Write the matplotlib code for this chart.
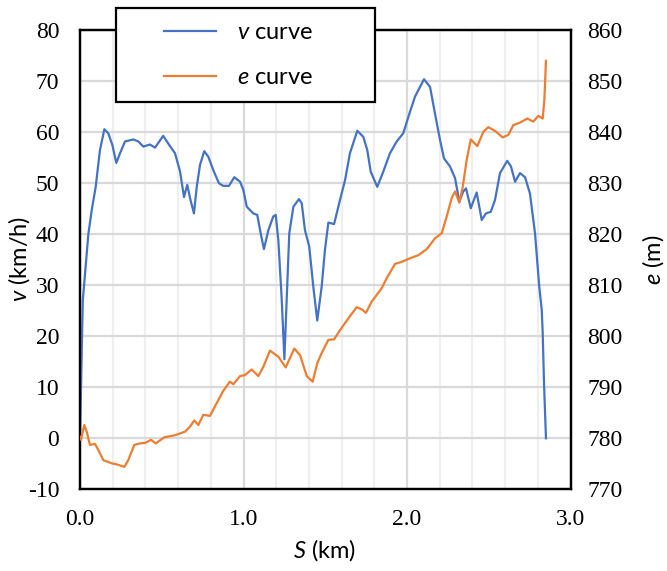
import matplotlib
matplotlib.use('Agg')
import matplotlib.pyplot as plt
from matplotlib.patches import Rectangle
from matplotlib.ticker import MultipleLocator

# Speed curve: distance (km) and speed (km/h).
v_dist = [0.000, 0.017, 0.051, 0.072, 0.096, 0.122, 0.149, 0.173, 0.198, 0.222,
          0.245, 0.275, 0.326, 0.357, 0.387, 0.428, 0.459, 0.509, 0.550, 0.581,
          0.612, 0.636, 0.656, 0.673, 0.697, 0.714, 0.734, 0.760, 0.785, 0.815,
          0.850, 0.876, 0.911, 0.944, 0.979, 0.999, 1.020, 1.060, 1.084, 1.105,
          1.125, 1.152, 1.182, 1.197, 1.213, 1.234, 1.250, 1.264, 1.280, 1.305,
          1.339, 1.356, 1.376, 1.402, 1.427, 1.451, 1.478, 1.498, 1.519, 1.554,
          1.590, 1.621, 1.651, 1.696, 1.733, 1.757, 1.778, 1.818, 1.855, 1.896,
          1.937, 1.977, 2.018, 2.049, 2.104, 2.141, 2.171, 2.202, 2.226, 2.263,
          2.294, 2.320, 2.344, 2.361, 2.390, 2.426, 2.457, 2.483, 2.512, 2.538,
          2.569, 2.613, 2.636, 2.661, 2.691, 2.722, 2.752, 2.783, 2.809, 2.824,
          2.830, 2.838, 2.850]
v_speed = [0.0, 27.0, 40.0, 44.8, 49.3, 56.5, 60.6, 59.8, 57.5, 54.0,
           55.9, 58.2, 58.6, 58.2, 57.2, 57.6, 57.0, 59.3, 57.3, 55.9,
           52.3, 47.3, 49.7, 47.1, 44.1, 49.3, 53.6, 56.3, 55.2, 52.6,
           50.0, 49.5, 49.5, 51.2, 50.3, 48.7, 45.4, 44.1, 43.8, 40.2,
           37.1, 40.8, 43.5, 43.8, 38.9, 27.1, 15.5, 27.1, 40.2, 45.4,
           46.9, 46.1, 40.8, 37.6, 29.7, 23.1, 29.7, 36.9, 42.3, 42.0,
           46.7, 50.6, 55.9, 60.3, 59.1, 56.5, 52.3, 49.3, 52.3, 55.9,
           58.2, 59.8, 64.0, 67.0, 70.4, 68.9, 63.7, 58.5, 54.9, 53.3,
           51.0, 46.4, 48.4, 49.0, 45.1, 48.2, 42.8, 44.1, 44.4, 46.7,
           52.0, 54.4, 53.3, 50.3, 52.0, 51.2, 48.0, 40.2, 29.7, 25.2,
           20.6, 10.8, 0.0]

# Elevation curve: distance (km) and elevation (m).
e_dist = [0.000, 0.006, 0.026, 0.041, 0.061, 0.092, 0.112, 0.143, 0.194, 0.234,
          0.271, 0.295, 0.332, 0.367, 0.398, 0.434, 0.463, 0.516, 0.581, 0.642,
          0.673, 0.699, 0.724, 0.754, 0.795, 0.836, 0.876, 0.917, 0.938, 0.979,
          1.009, 1.050, 1.091, 1.121, 1.162, 1.213, 1.258, 1.311, 1.346, 1.387,
          1.423, 1.451, 1.478, 1.519, 1.554, 1.590, 1.641, 1.692, 1.723, 1.749,
          1.784, 1.845, 1.876, 1.927, 1.968, 2.018, 2.069, 2.121, 2.171, 2.212,
          2.243, 2.273, 2.294, 2.320, 2.341, 2.365, 2.390, 2.430, 2.467, 2.497,
          2.538, 2.585, 2.620, 2.650, 2.691, 2.736, 2.772, 2.803, 2.830, 2.840,
          2.850]
e_elev = [780.3, 779.7, 782.6, 781.3, 778.7, 778.9, 777.7, 775.7, 775.1, 774.8,
          774.4, 775.7, 778.7, 779.0, 779.1, 779.7, 779.0, 780.2, 780.6, 781.3,
          782.3, 783.5, 782.6, 784.6, 784.4, 786.9, 789.3, 791.1, 790.6, 792.2,
          792.4, 793.5, 792.2, 794.0, 797.2, 796.0, 793.9, 797.6, 796.3, 792.2,
          791.1, 794.7, 796.7, 799.3, 799.4, 801.2, 803.5, 805.7, 805.3, 804.6,
          806.8, 809.4, 811.4, 814.2, 814.6, 815.3, 815.9, 817.1, 819.2, 820.2,
          823.5, 827.1, 828.4, 826.2, 829.3, 834.6, 838.6, 837.3, 840.1, 841.0,
          840.3, 839.0, 839.5, 841.4, 841.9, 842.7, 842.1, 843.2, 842.7, 846.3,
          854.0]

blue = '#4472c4'
orange = '#ed7d31'
tick_font = 'Liberation Serif'
label_font = 'Lato'

plt.rcParams['mathtext.fontset'] = 'custom'
plt.rcParams['mathtext.it'] = 'Lato:italic'
plt.rcParams['mathtext.rm'] = 'Lato'

W, H = 667, 571
fig = plt.figure(figsize=(W / 100, H / 100), dpi=100)
ax = fig.add_axes([80 / W, 1 - 489.3 / H, 490.5 / W, 459 / H])
ax2 = ax.twinx()

# Grid.
ax.set_xlim(0, 3)
ax.set_ylim(-10, 80)
ax2.set_ylim(770, 860)
ax.xaxis.set_minor_locator(MultipleLocator(0.2))
ax.grid(which='major', color='#d9d9d9', linewidth=1.6)
ax.grid(which='minor', axis='x', color='#efefef', linewidth=1.6)
ax.set_axisbelow(True)

# Data.
ax.plot(v_dist, v_speed, color=blue, linewidth=1.6, zorder=3)
ax2.plot(e_dist, e_elev, color=orange, linewidth=1.6, zorder=3)

# Ticks.
ax.set_xticks([0, 1, 2, 3])
ax.set_xticklabels(['0.0', '1.0', '2.0', '3.0'])
ax.set_yticks(range(-10, 81, 10))
ax.set_yticklabels([str(t) for t in range(-10, 81, 10)])
ax2.set_yticks(range(770, 861, 10))
ax2.set_yticklabels([str(t) for t in range(770, 861, 10)])
for a in (ax, ax2):
    a.tick_params(which='both', length=0, labelsize=17)
    for lab in a.get_xticklabels() + a.get_yticklabels():
        lab.set_fontfamily(tick_font)
    for spine in a.spines.values():
        spine.set_linewidth(1.6)
        spine.set_color('black')
ax.tick_params(axis='y', pad=15)
ax.tick_params(axis='x', pad=14)
ax2.tick_params(axis='y', pad=12)

# Axis labels.
fig.text(19 / W, 1 - 259 / H, r'$v$ (km/h)', fontsize=17, fontfamily=label_font,
         rotation=90, ha='center', va='center')
fig.text(653 / W, 1 - 260 / H, r'$e$ (m)', fontsize=17, fontfamily=label_font,
         rotation=90, ha='center', va='center')
fig.text(325 / W, 1 - 550 / H, r'$S$ (km)', fontsize=17, fontfamily=label_font,
         ha='center', va='center')

# Legend box, overlapping the top of the plot.
box = Rectangle((116 / W, 1 - 102 / H), 259 / W, 94 / H, transform=fig.transFigure,
                facecolor='white', edgecolor='black', linewidth=1.6, zorder=4)
fig.patches.append(box)
leg = fig.legend(
    [ax.lines[0], ax2.lines[0]],
    [r'$v$ curve', r'$e$ curve'],
    loc='center left',
    bbox_to_anchor=(143 / W, 1 - 55 / H),
    frameon=False,
    handlelength=2.2,
    handletextpad=0.9,
    labelspacing=1.0,
    prop={'family': label_font, 'size': 17},
)
leg.set_zorder(5)

fig.savefig('out.png', dpi=100)
